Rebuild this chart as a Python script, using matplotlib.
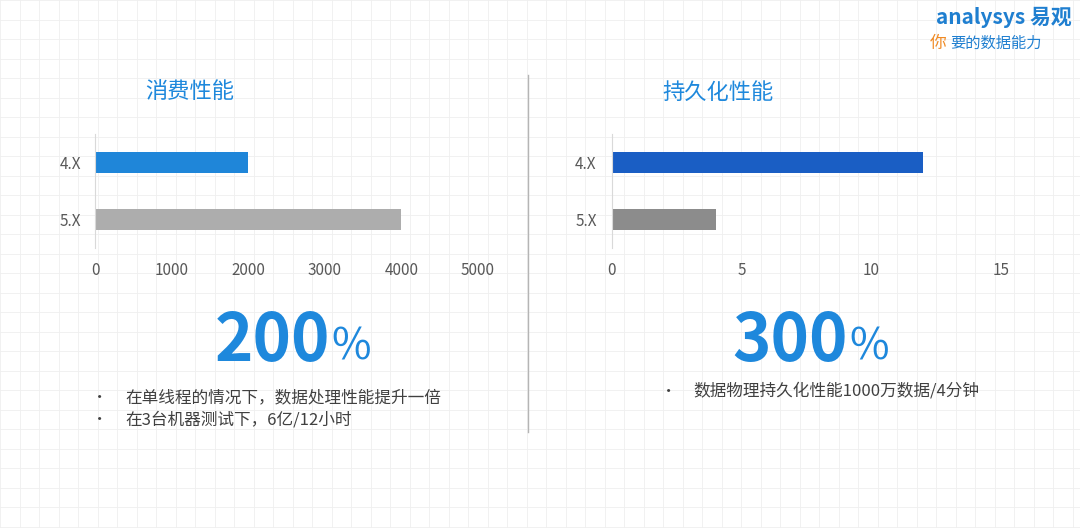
import numpy as np
import matplotlib
matplotlib.use("Agg")
import matplotlib.pyplot as plt

plt.rcParams['font.family'] = ['Noto Sans CJK SC', 'DejaVu Sans']

cats = ['4.X', '5.X']
consume_vals = [2000, 4000]
persist_vals = [12, 4]
consume_ticks = [0, 1000, 2000, 3000, 4000, 5000]
persist_ticks = [0, 5, 10, 15]
consume_colors = ['#1f86d9', '#adadad']
persist_colors = ['#1a5ec4', '#8c8c8c']

fig = plt.figure(figsize=(10.8, 5.28), dpi=100)
fig.patch.set_facecolor('white')

# faint graph-paper background
bg = fig.add_axes([0, 0, 1, 1])
bg.set_xlim(0, 1080)
bg.set_ylim(528, 0)
for gx in np.arange(0, 1080, 19.5):
    bg.axvline(gx, color='#efefef', lw=0.6)
for gy in np.arange(0, 528, 19.5):
    bg.axhline(gy, color='#efefef', lw=0.6)
bg.axis('off')
# divider
bg.plot([528, 528], [75, 432], color='#b5b5b5', lw=1.0)


def bar_panel(rect, vals, colors, ticks, xmax, ypad):
    ax = fig.add_axes(rect)
    ax.patch.set_alpha(0)
    ax.barh(range(len(cats)), vals, height=0.36, color=colors)
    ax.set_xlim(0, xmax)
    ax.set_ylim(1.5, -0.5)
    ax.set_yticks(range(len(cats)))
    ax.set_yticklabels(cats)
    ax.set_xticks(ticks)
    for s in ['top', 'right', 'bottom']:
        ax.spines[s].set_visible(False)
    ax.spines['left'].set_color('#d9d9d9')
    ax.tick_params(axis='x', length=0, pad=10, labelsize=11, labelcolor='#595959')
    ax.tick_params(axis='y', length=0, pad=ypad, labelsize=11, labelcolor='#595959')
    return ax


bar_panel([95/1080, 280/528, 383/1080, 114/528], consume_vals, consume_colors,
          consume_ticks, 5000, 10)
bar_panel([612/1080, 280/528, 389/1080, 114/528], persist_vals, persist_colors,
          persist_ticks, 15, 11)

blue = '#1e88dc'
bg.text(190, 92, '消费性能', fontsize=16, color=blue, ha='center', va='center')
bg.text(718, 92, '持久化性能', fontsize=16, color=blue, ha='center', va='center')

bg.text(330, 342, '200', fontsize=47, fontweight='bold', color=blue,
        ha='right', va='center')
bg.text(331, 348, '%', fontsize=31, color=blue, ha='left', va='center')
bg.text(848, 342, '300', fontsize=47, fontweight='bold', color=blue,
        ha='right', va='center')
bg.text(849, 348, '%', fontsize=31, color=blue, ha='left', va='center')

txt = '#404040'
bg.text(100, 398, '•', fontsize=11, color=txt, ha='center', va='center')
bg.text(125, 398, '在单线程的情况下，数据处理性能提升一倍', fontsize=12, color=txt, va='center')
bg.text(100, 420, '•', fontsize=11, color=txt, ha='center', va='center')
bg.text(125, 420, '在3台机器测试下，6亿/12小时', fontsize=12, color=txt, va='center')
bg.text(669, 391, '•', fontsize=11, color=txt, ha='center', va='center')
bg.text(693, 391, '数据物理持久化性能1000万数据/4分钟', fontsize=12, color=txt, va='center')

# logo
bg.text(1072, 17, 'analysys 易观', fontsize=15, fontweight='bold', style='italic',
        color='#1f7fd0', ha='right', va='center')
bg.text(930, 43, '你', fontsize=12, color='#f08a24', ha='left', va='center', style='italic')
bg.text(950, 43, '要的数据能力', fontsize=11, color='#1f7fd0', ha='left', va='center',
        style='italic')

fig.savefig('out.png', dpi=100, facecolor='white')
